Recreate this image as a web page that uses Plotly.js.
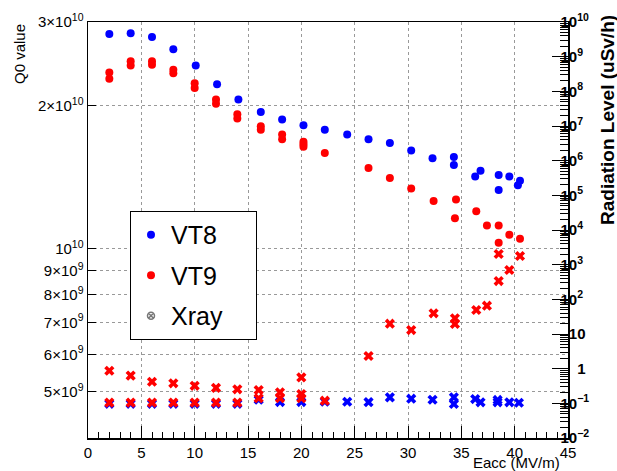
<!DOCTYPE html>
<html>
<head>
<meta charset="utf-8">
<script src="https://cdn.plot.ly/plotly-3.0.1.min.js"></script>
<style>html,body{margin:0;padding:0;background:#fff;}#chart{width:617px;height:471px;}</style>
</head>
<body>
<div id="chart"></div>
<script>
// ---- Data ----
// VT8 Q0 vs Eacc
const vt8Eacc = [2, 4, 6, 8, 10.1, 12.1, 14.1, 16.2, 18.2, 20.2, 22.2, 24.3, 26.3, 28.3, 30.3, 32.3, 34.3, 34.3, 36.3, 36.8, 38.5, 38.5, 39.5, 40.5, 40.3];
const vt8Q0 = [2.83e10, 2.84e10, 2.79e10, 2.63e10, 2.43e10, 2.22e10, 2.06e10, 1.94e10, 1.87e10, 1.82e10, 1.78e10, 1.74e10, 1.70e10, 1.67e10, 1.61e10, 1.55e10, 1.56e10, 1.50e10, 1.42e10, 1.46e10, 1.43e10, 1.33e10, 1.42e10, 1.39e10, 1.36e10];
// VT9 Q0 vs Eacc
const vt9Eacc = [2, 2, 4, 4, 6, 6, 8, 8, 10, 10, 12, 12, 14, 14, 16.2, 16.2, 18.2, 18.2, 20.2, 20.2, 20.2, 22.2, 26.3, 28.3, 30.3, 32.4, 34.5, 34.4, 36.4, 37.4, 38.5, 38.5, 39.5, 40.5];
const vt9Q0 = [2.35e10, 2.28e10, 2.48e10, 2.43e10, 2.48e10, 2.44e10, 2.38e10, 2.34e10, 2.23e10, 2.18e10, 2.06e10, 2.02e10, 1.92e10, 1.88e10, 1.81e10, 1.78e10, 1.74e10, 1.70e10, 1.68e10, 1.66e10, 1.64e10, 1.59e10, 1.48e10, 1.41e10, 1.34e10, 1.26e10, 1.27e10, 1.16e10, 1.20e10, 1.12e10, 1.12e10, 1.03e10, 1.07e10, 1.05e10];
// Xray radiation level (uSv/h), VT8
const vt8XrayEacc = [2, 4, 6, 8, 10, 12, 14, 16, 18, 20, 22.2, 24.3, 26.3, 28.3, 30.3, 32.3, 34.3, 34.3, 36.3, 36.8, 38.4, 38.4, 39.5, 40.4];
const vt8Xray = [0.097, 0.097, 0.097, 0.097, 0.097, 0.097, 0.097, 0.127, 0.109, 0.109, 0.112, 0.111, 0.108, 0.149, 0.136, 0.127, 0.149, 0.096, 0.133, 0.107, 0.125, 0.107, 0.107, 0.104];
// Xray radiation level (uSv/h), VT9
const vt9XrayEacc = [2, 4, 6, 8, 10, 12, 14, 2, 4, 6, 8, 10, 12, 14, 16, 16, 18, 18, 20, 20, 20, 22.2, 26.3, 28.3, 30.3, 32.4, 34.4, 34.4, 36.4, 37.4, 38.5, 38.5, 39.5, 40.5];
const vt9Xray = [0.87, 0.63, 0.42, 0.378, 0.32, 0.28, 0.254, 0.105, 0.105, 0.105, 0.105, 0.105, 0.105, 0.105, 0.242, 0.14, 0.208, 0.14, 0.56, 0.186, 0.14, 0.119, 2.32, 19.8, 13.0, 39.5, 28.4, 19.4, 49.2, 65.5, 337, 2030, 701, 1776];

// Tick labels
const q0TickVals = [5e9, 6e9, 7e9, 8e9, 9e9, 1e10, 2e10, 3e10];
const q0TickText = ['5×10<sup>9</sup>', '6×10<sup>9</sup>', '7×10<sup>9</sup>', '8×10<sup>9</sup>', '9×10<sup>9</sup>', '10<sup>10</sup>', '2×10<sup>10</sup>', '3×10<sup>10</sup>'];
const radTickVals = [1e-2, 1e-1, 1, 10, 1e2, 1e3, 1e4, 1e5, 1e6, 1e7, 1e8, 1e9, 1e10];
const radTickText = ['10<sup>−2</sup>', '10<sup>−1</sup>', '\u2007\u20071', '\u200710', '10<sup>2</sup>', '10<sup>3</sup>', '10<sup>4</sup>', '10<sup>5</sup>', '10<sup>6</sup>', '10<sup>7</sup>', '10<sup>8</sup>', '10<sup>9</sup>', '10<sup>10</sup>'];

// minor ticks of log right axis (2..9 x 10^k)
const radMinor = [];
for (let k = -2; k < 10; k++) { for (let m = 2; m <= 9; m++) radMinor.push(m * Math.pow(10, k)); }

const FONT = 'Liberation Sans, Arial, Helvetica, sans-serif';

const traces = [
  { x: vt8Eacc, y: vt8Q0, name: 'VT8', type: 'scatter', mode: 'markers', legendgroup: 'a',
    marker: { color: '#0000ff', size: 8, symbol: 'circle' } },
  { x: vt9Eacc, y: vt9Q0, name: 'VT9', type: 'scatter', mode: 'markers', legendgroup: 'b',
    marker: { color: '#ff0000', size: 8, symbol: 'circle' } },
  { x: [null], y: [null], name: 'Xray\u2007\u2007', type: 'scatter', mode: 'markers', yaxis: 'y2', legendgroup: 'c',
    marker: { color: '#777777', size: 7, symbol: 'circle-x-open', line: { width: 1.5 } } },
  { x: vt8XrayEacc, y: vt8Xray, name: 'VT8 Xray', type: 'scatter', mode: 'markers', yaxis: 'y2', showlegend: false,
    marker: { color: '#0000ff', size: 9, symbol: 'x' } },
  { x: vt9XrayEacc, y: vt9Xray, name: 'VT9 Xray', type: 'scatter', mode: 'markers', yaxis: 'y2', showlegend: false,
    marker: { color: '#ff0000', size: 9, symbol: 'x' } }
];

const layout = {
  width: 617, height: 471,
  margin: { l: 88, r: 49, t: 22, b: 33 },
  paper_bgcolor: '#ffffff', plot_bgcolor: '#ffffff',
  font: { family: FONT, color: '#000' },
  showlegend: true,
  legend: {
    x: 0.0875, y: 0.5457, xanchor: 'left', yanchor: 'top',
    bgcolor: '#ffffff', bordercolor: '#000', borderwidth: 1,
    font: { family: FONT, size: 25, color: '#000' },
    tracegroupgap: 5, traceorder: 'grouped'
  },
  xaxis: {
    range: [0, 45], dtick: 5, tick0: 0,
    ticks: 'inside', ticklen: 12, tickcolor: '#000', tickwidth: 1,
    showline: true, linecolor: '#000', linewidth: 1.5, mirror: true,
    showgrid: true, gridcolor: '#999', griddash: 'dot', gridwidth: 1,
    zeroline: false,
    tickfont: { family: FONT, size: 15, color: '#000' },
    minor: { dtick: 1, ticks: 'inside', ticklen: 6, tickcolor: '#000', showgrid: false }
  },
  yaxis: {
    type: 'log', range: [Math.log10(4e9), Math.log10(3e10)],
    tickmode: 'array', tickvals: q0TickVals, ticktext: q0TickText,
    ticks: 'inside', ticklen: 8, tickcolor: '#000',
    showline: true, linecolor: '#000', linewidth: 1.5,
    showgrid: true, gridcolor: '#999', griddash: 'dot', gridwidth: 1,
    zeroline: false,
    tickfont: { family: FONT, size: 15, color: '#000' }
  },
  yaxis2: {
    type: 'log', range: [-2, 10], overlaying: 'y', side: 'right',
    tickmode: 'array', tickvals: radTickVals, ticktext: radTickText,
    ticks: 'inside', ticklen: 16, tickcolor: '#000',
    showline: true, linecolor: '#000', linewidth: 1.5,
    showgrid: false, zeroline: false,
    ticklabelstandoff: -12,
    tickfont: { family: FONT, size: 15, color: '#000', weight: 'bold' },
    minor: { tickmode: 'array', tickvals: radMinor, ticks: 'inside', ticklen: 8, tickcolor: '#000', showgrid: false }
  },
  annotations: [
    { text: 'Q0 value', xref: 'paper', yref: 'paper', x: 0, y: 1, xshift: -69, yshift: 0,
      xanchor: 'center', yanchor: 'top', textangle: -90, showarrow: false,
      font: { family: FONT, size: 15, color: '#000' } },
    { text: 'Eacc (MV/m)', xref: 'paper', yref: 'paper', x: 1, y: 0, xshift: -6, yshift: -14,
      xanchor: 'right', yanchor: 'top', showarrow: false,
      font: { family: FONT, size: 15, color: '#000' } },
    { text: 'Radiation Level (uSv/h)', xref: 'paper', yref: 'paper', x: 1, y: 1, xshift: 39, yshift: 9,
      xanchor: 'center', yanchor: 'top', textangle: -90, showarrow: false,
      font: { family: FONT, size: 19, color: '#000', weight: 'bold' } }
  ]
};

Plotly.newPlot('chart', traces, layout, { staticPlot: true, displayModeBar: false });
</script>
</body>
</html>
